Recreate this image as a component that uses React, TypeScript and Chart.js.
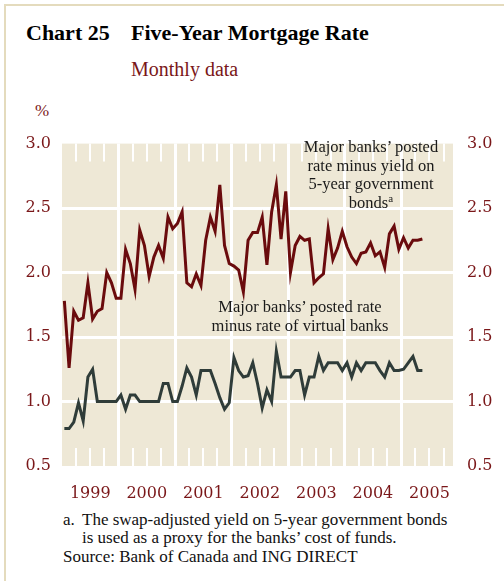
import React, { useEffect, useRef } from "react";
import { Chart, registerables } from "chart.js";

Chart.register(...registerables);

// ---- data (months since Jan 1999, monthly) ----
const YEARS = ["1999", "2000", "2001", "2002", "2003", "2004", "2005"];
const X_MIN = 0;
const X_MAX = 83;
const Y_TICKS = [0.5, 1.0, 1.5, 2.0, 2.5, 3.0];

// Major banks' posted rate minus yield on 5-year government bonds
const POSTED_MINUS_BOND = [
  1.78, 1.26, 1.70, 1.63, 1.65, 1.92, 1.64, 1.70, 1.72, 2.00, 1.92, 1.80,
  1.80, 2.18, 2.07, 1.87, 2.33, 2.21, 1.97, 2.12, 2.21, 2.11, 2.43, 2.34,
  2.38, 2.47, 1.92, 1.89, 1.99, 1.90, 2.25, 2.43, 2.32, 2.68, 2.21, 2.07,
  2.05, 2.02, 1.85, 2.25, 2.31, 2.31, 2.43, 2.06, 2.47, 2.68, 2.26, 2.63,
  2.00, 2.21, 2.28, 2.25, 2.26, 1.92, 1.96, 1.99, 2.34, 2.10, 2.19, 2.32,
  2.20, 2.12, 2.07, 2.15, 2.16, 2.23, 2.13, 2.16, 2.04, 2.30, 2.36, 2.18,
  2.27, 2.19, 2.25, 2.25, 2.26,
];

// Major banks' posted rate minus rate of virtual banks
const POSTED_MINUS_VIRTUAL = [
  0.79, 0.79, 0.84, 0.99, 0.85, 1.19, 1.25, 1.00, 1.00, 1.00, 1.00, 1.00,
  1.05, 0.94, 1.05, 1.05, 1.00, 1.00, 1.00, 1.00, 1.00, 1.14, 1.14, 1.00,
  1.00, 1.12, 1.26, 1.19, 1.05, 1.24, 1.24, 1.24, 1.14, 1.03, 0.94, 0.99,
  1.34, 1.24, 1.19, 1.20, 1.30, 1.14, 0.95, 1.09, 1.00, 1.39, 1.19, 1.19,
  1.19, 1.24, 1.24, 1.05, 1.19, 1.19, 1.35, 1.24, 1.30, 1.30, 1.30, 1.24,
  1.30, 1.19, 1.30, 1.24, 1.30, 1.30, 1.30, 1.24, 1.19, 1.30, 1.24, 1.24,
  1.25, 1.30, 1.35, 1.24, 1.24,
];

// ---- styles ----
const RED = "#6a0b0d";
const GRAY = "#2f3c39";
const LABEL_RED = "#7a1719";
const BG = "#eee8d6";
const FRAME = "#e4dbbd";
const SERIF = "'Liberation Serif', 'Times New Roman', serif";
const TICK_FONT = { family: "'DejaVu Serif', serif", size: 16 };

const toPoints = (arr: number[]) => arr.map((y, i) => ({ x: i + 0.5, y }));

const backgroundPlugin = {
  id: "bgAndQuarterTicks",
  beforeDraw(chart: any) {
    const { ctx, chartArea } = chart;
    ctx.save();
    ctx.fillStyle = BG;
    ctx.fillRect(chartArea.left, chartArea.top, chartArea.right - chartArea.left, chartArea.bottom - chartArea.top);
    ctx.restore();
  },
  beforeDatasetsDraw(chart: any) {
    const { ctx, chartArea } = chart;
    const xs = chart.scales.x;
    ctx.save();
    ctx.strokeStyle = "#ffffff";
    ctx.lineWidth = 2;
    for (let m = 3; m < X_MAX; m += 3) {
      if (m % 12 === 0) continue;
      const px = Math.round(xs.getPixelForValue(m));
      ctx.beginPath();
      ctx.moveTo(px, chartArea.top);
      ctx.lineTo(px, chartArea.top + 18);
      ctx.moveTo(px, chartArea.bottom);
      ctx.lineTo(px, chartArea.bottom - 18);
      ctx.stroke();
    }
    ctx.restore();
  },
};

function ChartCanvas() {
  const ref = useRef<HTMLCanvasElement | null>(null);
  useEffect(() => {
    if (!ref.current) return;
    const chart = new Chart(ref.current, {
      type: "line",
      data: {
        datasets: [
          {
            data: toPoints(POSTED_MINUS_BOND),
            borderColor: RED,
            borderWidth: 3,
            pointRadius: 0,
            tension: 0,
            xAxisID: "x",
            yAxisID: "y",
          },
          {
            data: toPoints(POSTED_MINUS_VIRTUAL),
            borderColor: GRAY,
            borderWidth: 3,
            pointRadius: 0,
            tension: 0,
            xAxisID: "x",
            yAxisID: "y",
          },
        ],
      },
      options: {
        animation: false,
        responsive: false,
        maintainAspectRatio: false,
        layout: { padding: { top: 15, left: 0, right: 0, bottom: 0 } },
        plugins: { legend: { display: false }, tooltip: { enabled: false } },
        scales: {
          x: {
            type: "linear",
            min: X_MIN,
            max: X_MAX,
            position: "bottom",
            afterBuildTicks: (s: any) => {
              s.ticks = YEARS.map((_, k) => ({ value: k * 12 + 6 }));
            },
            ticks: {
              callback: (v: any) => YEARS[Math.round((Number(v) - 6) / 12)],
              color: LABEL_RED,
              font: TICK_FONT,
              padding: 10,
              maxRotation: 0,
              autoSkip: false,
            },
            grid: { display: false },
            border: { display: false },
            afterFit: (s: any) => {
              s.height = 44;
            },
          },
          xg: {
            type: "linear",
            min: X_MIN,
            max: X_MAX,
            position: "bottom",
            afterBuildTicks: (s: any) => {
              s.ticks = YEARS.slice(1).map((_, k) => ({ value: (k + 1) * 12 }));
            },
            ticks: { display: false },
            grid: { color: "#ffffff", lineWidth: 3, drawTicks: false },
            border: { display: false },
            afterFit: (s: any) => {
              s.height = 0;
            },
          },
          y: {
            min: 0.5,
            max: 3.0,
            position: "left",
            afterBuildTicks: (s: any) => {
              s.ticks = Y_TICKS.map((v) => ({ value: v }));
            },
            ticks: {
              callback: (v: any) => Number(v).toFixed(1),
              color: LABEL_RED,
              font: TICK_FONT,
              padding: 11,
            },
            grid: {
              color: (c: any) => (c.tick && c.tick.value > 0.5 && c.tick.value < 3.0 ? "#ffffff" : "rgba(0,0,0,0)"),
              lineWidth: 3,
              drawTicks: false,
            },
            border: { display: false },
            afterFit: (s: any) => {
              s.width = 62;
            },
          },
          y2: {
            min: 0.5,
            max: 3.0,
            position: "right",
            afterBuildTicks: (s: any) => {
              s.ticks = Y_TICKS.map((v) => ({ value: v }));
            },
            ticks: {
              callback: (v: any) => Number(v).toFixed(1),
              color: LABEL_RED,
              font: TICK_FONT,
              padding: 14,
            },
            grid: { display: false, drawTicks: false },
            border: { display: false },
            afterFit: (s: any) => {
              s.width = 51;
            },
          },
        },
      } as any,
      plugins: [backgroundPlugin],
    });
    return () => chart.destroy();
  }, []);
  return (
    <canvas
      ref={ref}
      width={504}
      height={390}
      style={{ position: "absolute", left: 0, top: 120, width: 504, height: 390 }}
    />
  );
}

export default function App() {
  const abs = (extra: React.CSSProperties): React.CSSProperties => ({
    position: "absolute",
    margin: 0,
    whiteSpace: "nowrap",
    fontFamily: SERIF,
    ...extra,
  });
  return (
    <div
      style={{
        position: "absolute",
        left: 0,
        top: 0,
        width: 504,
        height: 581,
        background: "#ffffff",
        overflow: "hidden",
      }}
    >
      <div
        style={{
          position: "absolute",
          left: 4,
          top: 4,
          width: 520,
          height: 600,
          borderLeft: `2px solid ${FRAME}`,
          borderTop: `2px solid ${FRAME}`,
        }}
      />
      <div style={abs({ left: 26, top: 22, fontSize: 22, lineHeight: 1, fontWeight: 700, color: "#000" })}>
        Chart 25
      </div>
      <div style={abs({ left: 131, top: 22, fontSize: 22, lineHeight: 1, fontWeight: 700, color: "#000" })}>
        Five-Year Mortgage Rate
      </div>
      <div style={abs({ left: 131, top: 59, fontSize: 20, lineHeight: 1, color: LABEL_RED })}>Monthly data</div>
      <div style={abs({ left: 35, top: 102, fontSize: 17, lineHeight: 1, color: LABEL_RED })}>%</div>

      <ChartCanvas />

      <div
        style={abs({
          left: 271,
          top: 138,
          width: 200,
          textAlign: "center",
          fontSize: 16.5,
          lineHeight: "18.5px",
          color: "#1a1a1a",
        })}
      >
        Major banks’ posted
        <br />
        rate minus yield on
        <br />
        5-year government
        <br />
        bonds<sup style={{ fontSize: 11, lineHeight: 0, verticalAlign: "6px" }}>a</sup>
      </div>
      <div
        style={abs({
          left: 180,
          top: 296.5,
          width: 240,
          textAlign: "center",
          fontSize: 16.5,
          lineHeight: "19px",
          color: "#1a1a1a",
        })}
      >
        Major banks’ posted rate
        <br />
        minus rate of virtual banks
      </div>

      <div style={abs({ left: 63, top: 510.5, width: 440, fontSize: 17, lineHeight: "18.7px", color: "#111" })}>
        <div style={{ display: "flex" }}>
          <span style={{ display: "inline-block", width: 19 }}>a.</span>
          <span>
            The swap-adjusted yield on 5-year government bonds
            <br />
            is used as a proxy for the banks’ cost of funds.
          </span>
        </div>
        <div>Source: Bank of Canada and ING DIRECT</div>
      </div>
    </div>
  );
}
